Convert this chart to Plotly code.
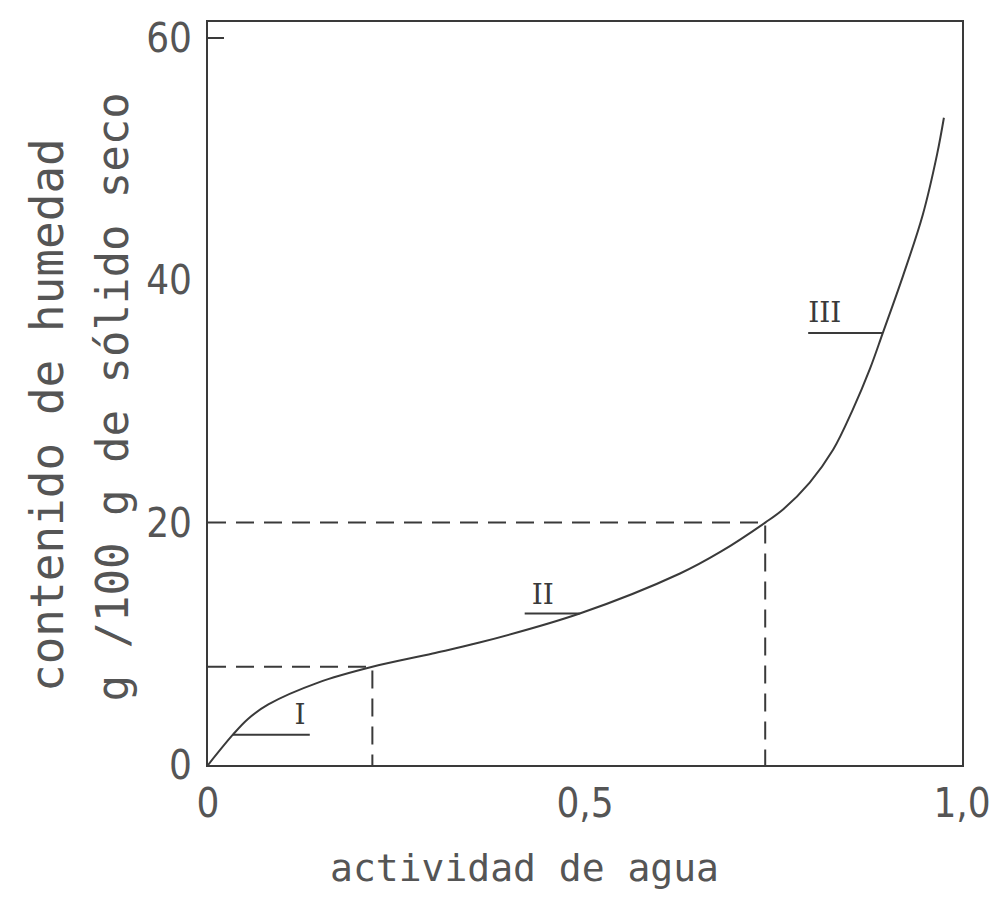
import plotly.graph_objects as go

# --- data ---
aw = [0.0, 0.033, 0.053, 0.08, 0.146, 0.218, 0.298, 0.36, 0.493, 0.626,
      0.68, 0.739, 0.763, 0.798, 0.829, 0.855, 0.878, 0.895, 0.922, 0.948,
      0.967, 0.976]
moisture = [0.0, 2.5, 3.8, 5.0, 6.8, 8.1, 9.2, 10.1, 12.5, 15.8,
            17.6, 20.0, 21.1, 23.3, 26.0, 29.3, 32.7, 35.65, 40.4, 45.4,
            50.4, 53.4]

boundary_aw = [0.218, 0.739]
boundary_m = [8.1, 20.0]

region_labels = ["I", "II", "III"]
leader_y = [2.5, 12.5, 35.65]
leader_x0 = [0.033, 0.42, 0.796]
leader_x1 = [0.135, 0.493, 0.895]
label_x = [0.122, 0.444, 0.818]
label_y = [4.0, 13.9, 37.1]

x_tickvals = [0, 0.5, 1.0]
x_ticktext = ["0", "0,5", "1,0"]
y_tickvals = [0, 20, 40, 60]
y_ticktext = ["0", "20", "40", "60"]

x_title = "actividad de agua"
y_title_1 = "contenido de humedad"
y_title_2 = "g /100 g de sólido seco"

INK = "#3a3a3a"
TXT = "#555555"
TICKFONT = dict(family="DejaVu Sans Condensed, DejaVu Sans", size=40, color=TXT)

fig = go.Figure()

# dashed boundary guides
for bx, bm in zip(boundary_aw, boundary_m):
    fig.add_trace(go.Scatter(
        x=[0, bx, bx], y=[bm, bm, 0], mode="lines",
        line=dict(color=INK, width=2, dash="18px,10px"),
        hoverinfo="skip", showlegend=False))

# leader lines for region labels
for x0, x1, ly in zip(leader_x0, leader_x1, leader_y):
    fig.add_trace(go.Scatter(
        x=[x0, x1], y=[ly, ly], mode="lines",
        line=dict(color=INK, width=2),
        hoverinfo="skip", showlegend=False))

# isotherm
fig.add_trace(go.Scatter(
    x=aw, y=moisture, mode="lines",
    line=dict(color=INK, width=2, shape="spline", smoothing=1.0),
    showlegend=False))

# region labels
fig.add_trace(go.Scatter(
    x=label_x, y=label_y, mode="text", text=region_labels,
    textfont=dict(family="DejaVu Serif", size=28, color=INK),
    hoverinfo="skip", showlegend=False))

fig.update_layout(
    width=996, height=898,
    margin=dict(l=200, r=42, t=7, b=141),
    plot_bgcolor="white", paper_bgcolor="white",
    showlegend=False,
    xaxis=dict(range=[0, 1.0], tickvals=x_tickvals, ticktext=x_ticktext,
               showgrid=False, zeroline=False, showline=True, mirror=True,
               linecolor=INK, linewidth=2, ticks="",
               tickfont=TICKFONT, ticklabelstandoff=2),
    yaxis=dict(range=[0, 61.3], tickvals=y_tickvals, ticktext=y_ticktext,
               showgrid=False, zeroline=False, showline=True, mirror=True,
               linecolor=INK, linewidth=2, ticks="",
               tickfont=TICKFONT, ticklabelstandoff=6),
    yaxis2=dict(range=[0, 61.3], overlaying="y", side="left",
                tickvals=[y_tickvals[-1]], ticks="inside", ticklen=16,
                tickwidth=2, tickcolor=INK, showticklabels=False,
                showgrid=False, zeroline=False, showline=False),
)

# invisible trace to activate yaxis2
fig.add_trace(go.Scatter(x=[0], y=[0], yaxis="y2", mode="markers",
                         marker=dict(opacity=0), hoverinfo="skip",
                         showlegend=False))

fig.add_annotation(text=x_title, xref="paper", yref="paper",
                   x=0.42, y=-0.138, showarrow=False,
                   xanchor="center", yanchor="middle",
                   font=dict(family="DejaVu Sans Mono", size=38, color=TXT))
fig.add_annotation(text=y_title_1, xref="paper", yref="paper",
                   x=-0.2135, y=0.471, showarrow=False, textangle=-90,
                   xanchor="center", yanchor="middle",
                   font=dict(family="DejaVu Sans Mono", size=46, color=TXT))
fig.add_annotation(text=y_title_2, xref="paper", yref="paper",
                   x=-0.127, y=0.495, showarrow=False, textangle=-90,
                   xanchor="center", yanchor="middle",
                   font=dict(family="DejaVu Sans Mono", size=44, color=TXT))

fig.write_html("out.html")
